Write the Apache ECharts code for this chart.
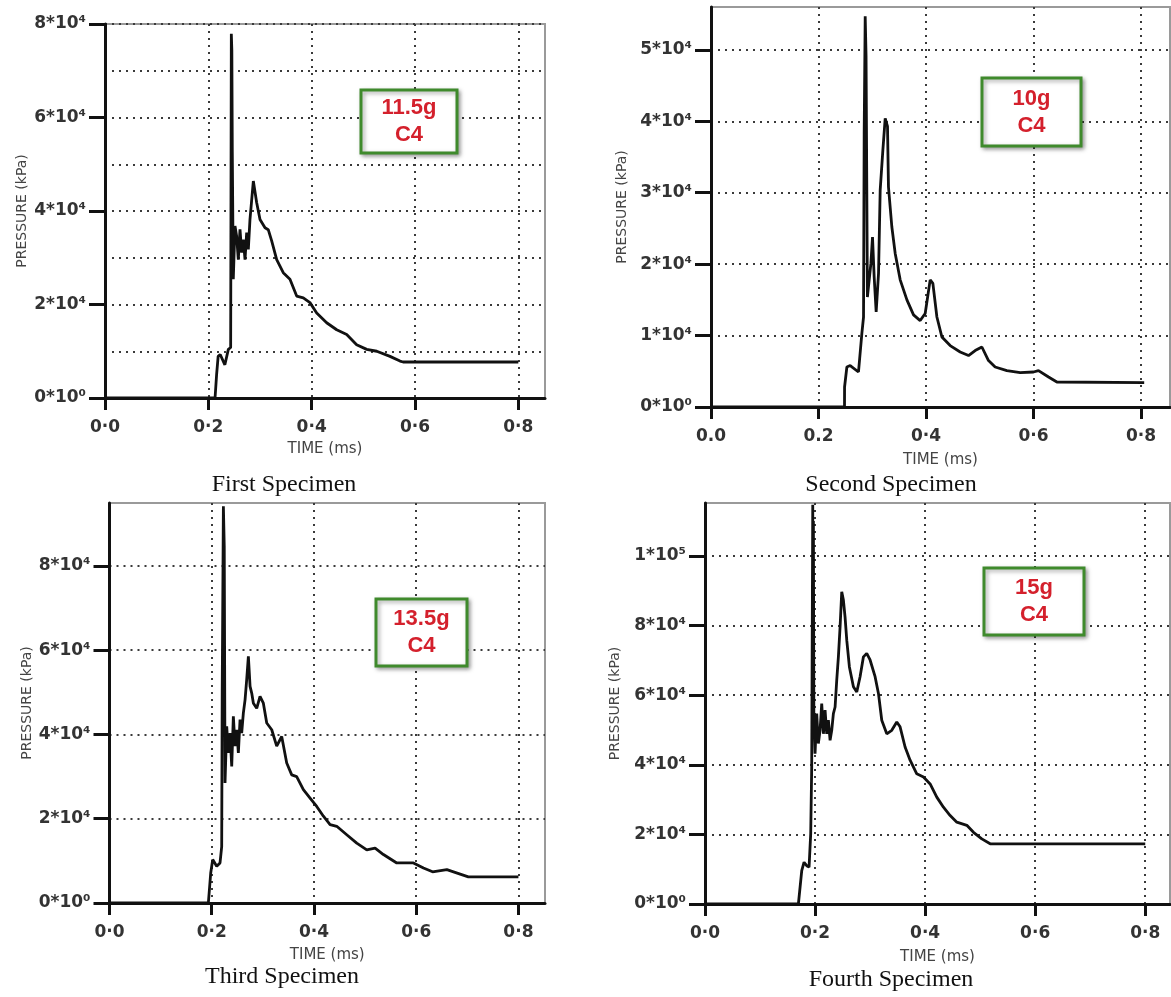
<!DOCTYPE html>
<html>
<head>
<meta charset="utf-8">
<script src="https://cdn.jsdelivr.net/npm/echarts@6/dist/echarts.min.js"></script>
<style>html,body{margin:0;padding:0;background:#fff;}#c{width:1171px;height:997px;}</style>
</head>
<body>
<div id="c"></div>
<script>
// ---- data (time in ms, pressure in kPa) ----
const time1 = [0,0.213,0.216,0.219,0.223,0.232,0.2387,0.2432,0.2445,0.2455,0.2464,0.2483,0.2516,0.2548,0.258,0.2613,0.2645,0.2677,0.271,0.2742,0.2774,0.2806,0.2871,0.2935,0.300,0.3097,0.316,0.3226,0.3323,0.345,0.358,0.371,0.3838,0.3967,0.4097,0.429,0.4484,0.4678,0.487,0.5065,0.526,0.5516,0.571,0.577,0.800];
const pressure1 = [0,0,5000,8900,9300,7100,10400,10800,77900,74300,52500,25400,36800,34600,29600,36100,31100,33900,29600,35400,31800,38200,46400,41800,38200,36400,36000,33600,29600,26800,25400,21800,21400,20400,18200,16100,14600,13600,11400,10400,10000,8900,7900,7700,7700];

const time2 = [0,0.2484,0.2485,0.2528,0.259,0.2744,0.2807,0.2838,0.285,0.2869,0.2885,0.291,0.2975,0.3005,0.3036,0.3073,0.3117,0.3148,0.3198,0.3241,0.3284,0.3302,0.3365,0.3427,0.352,0.3645,0.3768,0.3892,0.3985,0.4078,0.4128,0.4203,0.4296,0.445,0.4636,0.4791,0.4915,0.504,0.5163,0.5287,0.5505,0.5753,0.600,0.6093,0.628,0.6435,0.645,0.806];
const pressure2 = [0,0,2800,5600,5800,4900,10300,12600,38300,54700,49100,15400,20100,23800,18200,13300,18700,30400,36000,40400,39300,30800,25200,21500,17800,15000,12900,12100,13100,17800,17300,12600,9800,8600,7700,7200,7900,8400,6500,5600,5100,4800,4900,5100,4200,3500,3400,3400];

const time3 = [0,0.1934,0.198,0.2019,0.2097,0.2162,0.2195,0.2205,0.2228,0.2245,0.226,0.2293,0.2325,0.2358,0.2391,0.2423,0.2456,0.2489,0.2521,0.2554,0.2586,0.2619,0.2652,0.2684,0.2717,0.275,0.2782,0.2815,0.288,0.2945,0.301,0.3076,0.3174,0.3271,0.3369,0.3467,0.3565,0.3662,0.3793,0.3924,0.4054,0.4185,0.4315,0.4446,0.4641,0.4837,0.5033,0.5196,0.5359,0.562,0.5946,0.6142,0.632,0.660,0.673,0.702,0.800];
const pressure3 = [0,0,7100,10300,8700,9500,13400,50600,94100,84600,28500,41900,35600,40300,32400,44300,37200,41100,35600,43500,40300,45100,48200,53000,58500,51400,49800,47400,46200,49000,47400,42700,41100,37200,39500,33200,30400,30000,26900,24900,22900,20600,18600,18200,16200,14200,12600,13000,11500,9500,9500,8300,7400,7900,7400,6200,6200];

const time4 = [0,0.1697,0.1758,0.180,0.1848,0.1891,0.1921,0.1939,0.1958,0.1965,0.197,0.1978,0.200,0.203,0.206,0.2091,0.2121,0.2152,0.2182,0.2212,0.2242,0.2273,0.2303,0.2333,0.2364,0.2394,0.2424,0.2455,0.2485,0.2515,0.2545,0.2576,0.2624,0.2697,0.2758,0.2818,0.2879,0.2939,0.300,0.3091,0.3152,0.3212,0.3303,0.3394,0.3485,0.3545,0.3636,0.3727,0.3848,0.397,0.4091,0.4212,0.4333,0.4455,0.4576,0.4758,0.4879,0.503,0.5182,0.5273,0.800];
const pressure4 = [0,0,9600,12000,11000,10600,20200,39300,114700,70000,110000,55000,43200,54700,46100,49900,57600,48900,55700,48900,52800,47000,49900,54700,56600,64300,71000,79700,89700,87300,82500,75800,68100,62400,60900,65300,71000,72000,70100,65300,60500,52800,48900,49900,52300,50900,45100,41300,37400,36500,34500,30700,27800,25400,23500,22600,20600,18700,17300,17300,17300];

// ---- axes / labels ----
const xTicks = [0, 0.2, 0.4, 0.6, 0.8];
const xTickLabels1 = ['0·0','0·2','0·4','0·6','0·8'];
const xTickLabels2 = ['0.0','0.2','0·4','0·6','0·8'];
const xTickLabels3 = ['0·0','0·2','0·4','0·6','0·8'];
const xTickLabels4 = ['0·0','0·2','0·4','0·6','0·8'];
const yTicks1 = [0, 20000, 40000, 60000, 80000];
const yTicks2 = [0, 10000, 20000, 30000, 40000, 50000];
const yTicks3 = [0, 20000, 40000, 60000, 80000];
const yTicks4 = [0, 20000, 40000, 60000, 80000, 100000];
const xMax = [0.8516, 0.854, 0.852, 0.845];
const yMax = [80000, 56000, 94900, 115200];
const xName = 'TIME (ms)';
const yName = 'PRESSURE (kPa)';
const boxTexts = ['11.5g\nC4', '10g\nC4', '13.5g\nC4', '15g\nC4'];
const captions = ['First Specimen', 'Second Specimen', 'Third Specimen', 'Fourth Specimen'];

// ---- layout ----
const grids = [
  {left: 105, top: 24, width: 440, height: 374},
  {left: 711, top: 7, width: 459, height: 400},
  {left: 109.5, top: 503, width: 435.5, height: 400},
  {left: 705, top: 503, width: 465, height: 401}
];
const boxes = [
  {x: 361, y: 90, w: 96, h: 63},
  {x: 982, y: 78, w: 99, h: 68},
  {x: 376, y: 599, w: 91, h: 67},
  {x: 984, y: 568, w: 100, h: 67}
];
const captionPos = [[284, 485], [891, 485], [282, 977], [891, 980]];
const xNameGap = [44, 46, 45, 46];
const yNameGap = [76, 82, 75, 83];

const SUP = {'0':'⁰','1':'¹','2':'²','3':'³','4':'⁴','5':'⁵','6':'⁶','7':'⁷','8':'⁸','9':'⁹'};
function sci(v) {
  if (v === 0) return '0*10⁰';
  const e = Math.floor(Math.log10(v) + 1e-9);
  const m = Math.round(v / Math.pow(10, e));
  return m + '*10' + String(e).split('').map(c => SUP[c]).join('');
}

const FONT = 'DejaVu Sans';
const xLabelSets = [xTickLabels1, xTickLabels2, xTickLabels3, xTickLabels4];
const yTickSets = [yTicks1, yTicks2, yTicks3, yTicks4];
const yInterval = [20000, 10000, 20000, 20000];
const times = [time1, time2, time3, time4];
const pressures = [pressure1, pressure2, pressure3, pressure4];

const gridLine = {show: true, lineStyle: {color: '#3a3a3a', width: 2, type: [2, 5]}};

const option = {
  animation: false,
  backgroundColor: '#fff',
  grid: grids.map(g => Object.assign({show: true, borderColor: '#9a9a9a', borderWidth: 2, backgroundColor: 'transparent'}, g)),
  xAxis: grids.map((g, i) => ({
    type: 'value', gridIndex: i, min: 0, max: xMax[i], interval: 0.2,
    name: xName, nameLocation: 'middle', nameGap: xNameGap[i],
    nameTextStyle: {fontFamily: FONT, fontSize: 15, color: '#444'},
    axisLine: {show: true, onZero: false, lineStyle: {color: '#111', width: 3}},
    axisTick: {show: true, length: 12, customValues: xTicks, lineStyle: {color: '#111', width: 3}},
    axisLabel: {customValues: xTicks, margin: 21, fontFamily: FONT, fontSize: 17, fontWeight: 'bold', color: '#333',
      formatter: v => xLabelSets[i][Math.round(v / 0.2)] || ''},
    splitLine: gridLine
  })),
  yAxis: grids.map((g, i) => ({
    type: 'value', gridIndex: i, min: 0, max: yMax[i], interval: yInterval[i],
    name: yName, nameLocation: 'middle', nameGap: yNameGap[i],
    nameTextStyle: {fontFamily: FONT, fontSize: 14, color: '#444'},
    axisLine: {show: true, onZero: false, lineStyle: {color: '#111', width: 3}},
    axisTick: {show: true, length: 16, customValues: yTickSets[i], lineStyle: {color: '#111', width: 3}},
    axisLabel: {customValues: yTickSets[i], margin: 19, fontFamily: FONT, fontSize: 17, fontWeight: 'bold', color: '#333',
      formatter: v => sci(v)},
    splitLine: gridLine,
    minorTick: {show: false, splitNumber: 2},
    minorSplitLine: i === 0 ? gridLine : {show: false}
  })),
  series: times.map((t, i) => ({
    type: 'line', xAxisIndex: i, yAxisIndex: i,
    data: t.map((x, k) => [x, pressures[i][k]]),
    showSymbol: false, symbol: 'none',
    lineStyle: {color: '#111', width: 2.8},
    z: 5
  })),
  graphic: [].concat(
    boxes.map((b, i) => ({
      type: 'rect', z: 100, zlevel: 1,
      shape: {x: b.x, y: b.y, width: b.w, height: b.h},
      style: {fill: '#ffffff', stroke: '#3f8a2c', lineWidth: 3, shadowBlur: 4, shadowOffsetX: 2, shadowOffsetY: 2, shadowColor: 'rgba(0,0,0,0.35)'}
    })),
    boxes.map((b, i) => ({
      type: 'text', z: 101, zlevel: 1,
      style: {x: b.x + b.w / 2, y: b.y + b.h / 2, text: boxTexts[i], align: 'center', verticalAlign: 'middle',
        fill: '#d4202c', fontFamily: 'Liberation Sans', fontWeight: 'bold', fontSize: 22, lineHeight: 27}
    })),
    captions.map((c, i) => ({
      type: 'text', z: 100,
      style: {x: captionPos[i][0], y: captionPos[i][1], text: c, align: 'center', verticalAlign: 'middle',
        fill: '#111', fontFamily: 'Liberation Serif', fontSize: 24}
    }))
  )
};

const chart = echarts.init(document.getElementById('c'), null, {renderer: 'canvas'});
chart.setOption(option);
</script>
</body>
</html>
